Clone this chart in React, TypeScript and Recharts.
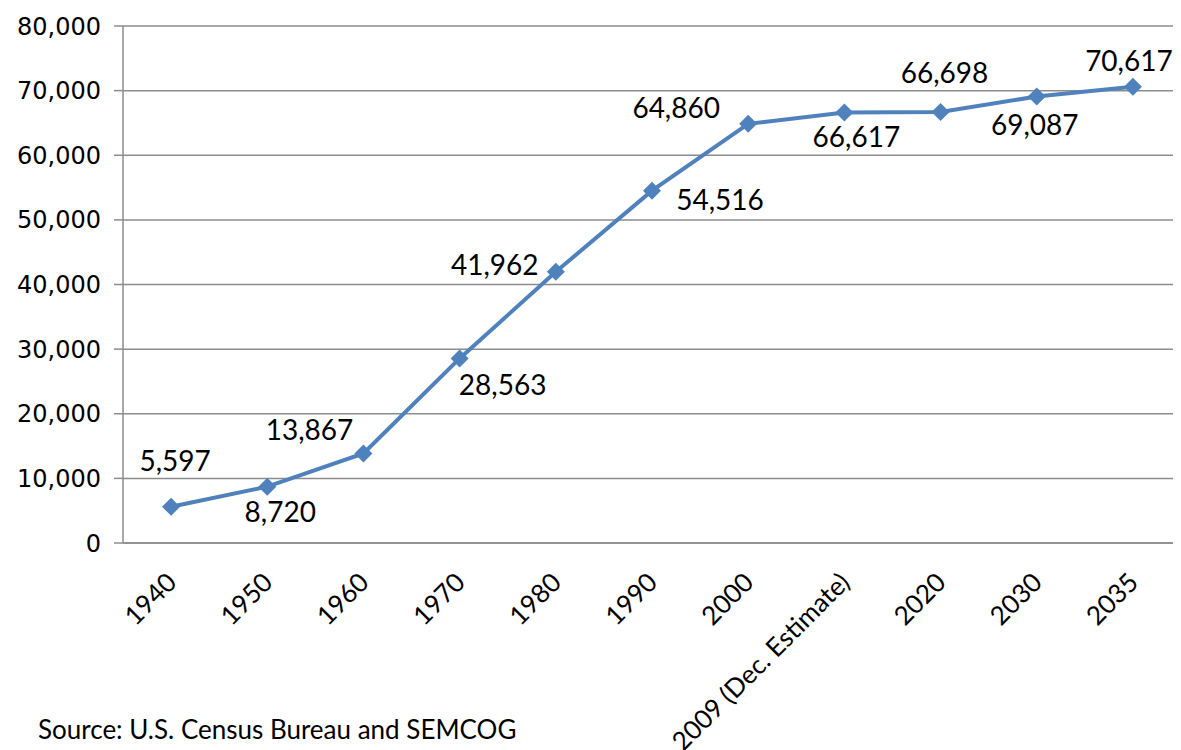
import React from 'react';
import { LineChart, Line, XAxis, YAxis, CartesianGrid, LabelList } from 'recharts';

const years = ['1940', '1950', '1960', '1970', '1980', '1990', '2000', '2009 (Dec. Estimate)', '2020', '2030', '2035'];
const population = [5597, 8720, 13867, 28563, 41962, 54516, 64860, 66617, 66698, 69087, 70617];
const yTicks = [0, 10000, 20000, 30000, 40000, 50000, 60000, 70000, 80000];
const boundaryTicks = [0, 1, 2, 3, 4, 5, 6, 7, 8, 9, 10, 11];
const sourceNote = 'Source: U.S. Census Bureau and SEMCOG';

// label placement (offset of label centre from its point), styling only
const labelOffsets: [number, number][] = [
  [4, -45], [13, 26], [-54, -22], [43, 28], [-61, -6], [68, 10],
  [-72, -15], [12, 26], [4, -38], [-2, 29], [-4, -25],
];

const data = years.map((year, i) => ({ year, population: population[i] }));

const LABEL_FONT = 'Lato, "Open Sans", sans-serif';
const AXIS_FONT = '"DejaVu Sans", Verdana, sans-serif';
const BLUE = '#4F81BD';
const GRID = '#8c8c8c';

const fmt = (v: number) => String(v).replace(/\B(?=(\d{3})+(?!\d))/g, ',');

const XTick = (props: any) => {
  const { x, y, payload } = props;
  const ax = x + 7;
  const ay = y + 31;
  return (
    <text
      x={ax}
      y={ay}
      transform={`rotate(-45 ${ax} ${ay})`}
      textAnchor="end"
      fontFamily={LABEL_FONT}
      fontSize={26}
      fill="#000"
    >
      {payload.value}
    </text>
  );
};

const Diamond = (props: any) => {
  const { cx, cy, index } = props;
  const r = 9;
  return (
    <path
      key={`d-${index}`}
      d={`M${cx},${cy - r}L${cx + r},${cy}L${cx},${cy + r}L${cx - r},${cy}Z`}
      fill={BLUE}
      stroke="none"
    />
  );
};

const PointLabel = (props: any) => {
  const { x, y, value, index } = props;
  const [dx, dy] = labelOffsets[index] || [0, -20];
  return (
    <text
      x={x + dx}
      y={y + dy + 9}
      textAnchor="middle"
      fontFamily={LABEL_FONT}
      fontSize={28}
      fill="#000"
    >
      {fmt(value)}
    </text>
  );
};

export default function App() {
  return (
    <div style={{ position: 'relative', width: 1173, height: 742 }}>
      <LineChart width={1173} height={742} data={data} margin={{ top: 18, right: 0, bottom: 0, left: 0 }}>
        <CartesianGrid xAxisId="cat" vertical={false} stroke={GRID} strokeWidth={1.5} />
        <XAxis
          xAxisId="bounds"
          type="number"
          domain={[0, 11]}
          ticks={boundaryTicks}
          allowDataOverflow
          tick={false}
          tickSize={9}
          height={10}
          axisLine={{ stroke: GRID, strokeWidth: 1.5 }}
          tickLine={{ stroke: GRID, strokeWidth: 1.5 }}
        />
        <XAxis
          xAxisId="cat"
          dataKey="year"
          type="category"
          scale="band"
          interval={0}
          height={197}
          axisLine={false}
          tickLine={false}
          tickSize={0}
          tickMargin={0}
          tick={<XTick />}
        />
        <YAxis
          domain={[0, 80000]}
          ticks={yTicks}
          interval={0}
          width={115}
          tickSize={9}
          tickMargin={13}
          tickFormatter={fmt}
          axisLine={{ stroke: GRID, strokeWidth: 1.5 }}
          tickLine={{ stroke: GRID, strokeWidth: 1.5 }}
          tick={{ fontFamily: AXIS_FONT, fontSize: 24, fill: '#000' }}
        />
        <Line
          xAxisId="cat"
          type="linear"
          dataKey="population"
          stroke={BLUE}
          strokeWidth={4}
          dot={<Diamond />}
          activeDot={false}
          isAnimationActive={false}
        >
          <LabelList dataKey="population" content={<PointLabel />} />
        </Line>
      </LineChart>
      <div
        style={{
          position: 'absolute',
          left: 30,
          top: 708,
          fontFamily: LABEL_FONT,
          fontSize: 26,
          lineHeight: '26px',
          color: '#000',
          whiteSpace: 'nowrap',
        }}
      >
        {sourceNote}
      </div>
    </div>
  );
}
